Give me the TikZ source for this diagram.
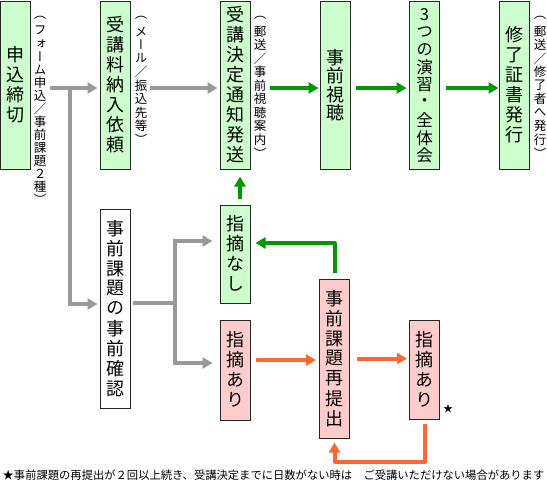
\documentclass[tikz,border=0pt]{standalone}
\usepackage{fontspec}
\usetikzlibrary{arrows.meta,calc}
\newfontfamily\hfont{Noto Sans CJK JP}
\newfontfamily\vfont{Noto Sans CJK JP}[RawFeature=+vert]
\definecolor{boxgreen}{HTML}{CCFFCC}
\definecolor{boxpink}{HTML}{FFCCCC}
\definecolor{arrgray}{HTML}{999999}
\definecolor{arrgreen}{HTML}{009900}
\definecolor{arrorange}{HTML}{FF6633}
\ExplSyntaxOn
\NewDocumentCommand\vt{O{20}m}{
  \vbox{\offinterlineskip
    \tl_map_inline:nn {#2}{\hbox_to_wd:nn{1.1em}{\hss\vbox_to_ht:nn{#1pt}{\vss\hbox{##1}\vss}\hss}}
  }
}
\ExplSyntaxOff
\tikzset{
  box/.style={draw=black!85, line width=1pt, inner sep=0pt, minimum width=30pt,
    font=\vfont\fontsize{18}{18}\selectfont},
  gbox/.style={box, fill=boxgreen},
  pbox/.style={box, fill=boxpink},
  wbox/.style={box, fill=white},
  lab/.style={inner sep=0pt, anchor=north, font=\vfont\fontsize{12.5}{12.5}\selectfont},
  grayarr/.style={draw=arrgray, line width=4pt, -{Triangle[length=10pt,width=11pt]}},
  grayline/.style={draw=arrgray, line width=4pt},
  greenarr/.style={draw=arrgreen, line width=4pt, line join=round, -{Triangle[length=10pt,width=11pt]}},
  orangearr/.style={draw=arrorange, line width=4pt, line join=round, -{Triangle[length=10pt,width=11pt]}},
}
\begin{document}
\begin{tikzpicture}[x=1pt,y=-1pt]
\useasboundingbox (0,0) rectangle (547,483);
% top row
\node[gbox, minimum height=168pt] (A) at (15.5,85) {\vt{申込締切}};
\node[gbox, minimum height=168pt] (B) at (115,85) {\vt{受講料納入依頼}};
\node[gbox, minimum height=168pt] (C) at (235,85) {\vt{受講決定通知発送}};
\node[gbox, minimum height=168pt] (D) at (335,85) {\vt[18.5]{事前視聴}};
\node[gbox, minimum height=168pt, font=\vfont\fontsize{16.5}{16.5}\selectfont] (E) at (424.5,85) {\vt[17.6]{3つの演習・全体会}};
\node[gbox, minimum height=168pt] (F) at (514.5,85) {\vt{修了証書発行}};
% labels
\node[lab] (LA) at (40,11) {\vt[13]{（フォーム申込／事前課題２種）}};
\node[lab] (LB) at (141,11) {\vt[13.5]{（メール／振込先等）}};
\node[lab] (LC) at (260,11) {\vt[13.5]{（郵送／事前視聴案内）}};
\node[lab] (LF) at (540,11) {\vt[13.5]{（郵送／修了者へ発行）}};
% lower boxes
\node[wbox, minimum height=199pt] (G) at (115,308.5) {\vt{事前課題の事前確認}};
\node[gbox, minimum height=98pt] (H) at (235,254) {\vt{指摘なし}};
\node[pbox, minimum height=100pt] (I) at (235,370) {\vt{指摘あり}};
\node[pbox, minimum height=159pt] (J) at (334.5,358.5) {\vt{事前課題再提出}};
\node[pbox, minimum height=99pt] (K) at (424.5,369.5) {\vt{指摘あり}};
\node[inner sep=0pt, font=\hfont\fontsize{10}{10}\selectfont] (star) at (448,409) {★};
\node[inner sep=0pt, font=\hfont\fontsize{11.3}{11.3}\selectfont] (note) at (273.5,475)
  {★事前課題の再提出が２回以上続き、受講決定までに日数がない時は　ご受講いただけない場合があります};
% connectors
\coordinate (row) at (0,88);
\coordinate (j1) at (70,88);
\coordinate (j2) at (175,303);
\coordinate (lb) at (0,462);
\draw[grayarr] ($(LA.east |- row)+(3,0)$) -- ($(B.west |- row)+(-2,0)$);
\draw[grayarr] (j1) |- ($(G.west)+(-2,-4.5)$);
\draw[grayarr] ($(LB.east |- row)+(2,0)$) -- ($(C.west |- row)+(-2,0)$);
\draw[grayline] ($(G.east |- j2)+(2,0)$) -- (j2);
\draw[grayarr] (j2) |- ($(H.west)+(-7,-13)$);
\draw[grayarr] (j2) |- ($(I.west)+(-7,-7)$);
\draw[greenarr] ($(LC.east |- row)+(3,0)$) -- ($(D.west |- row)+(-1,0)$);
\draw[greenarr] ($(D.east |- row)+(5,0)$) -- ($(E.west |- row)+(-2.5,0)$);
\draw[greenarr] ($(E.east |- row)+(5.5,0)$) -- ($(F.west |- row)+(-0.5,0)$);
\draw[greenarr] ($(H.north)+(5,-6)$) -- ($(C.south)+(5,7)$);
\draw[greenarr] ($(J.north)+(0,-6)$) |- ($(H.east)+(5,-11)$);
\draw[orangearr] ($(I.east)+(5,-10)$) -- ($(J.west)+(-3,1.5)$);
\draw[orangearr] ($(J.east)+(7,0)$) -- ($(K.west |- J.east)+(-2,0)$);
\draw[orangearr] ($(K.south)+(0,4)$) -- (K.south |- lb) -| ($(J.south)+(0,4)$);
\end{tikzpicture}
\end{document}
